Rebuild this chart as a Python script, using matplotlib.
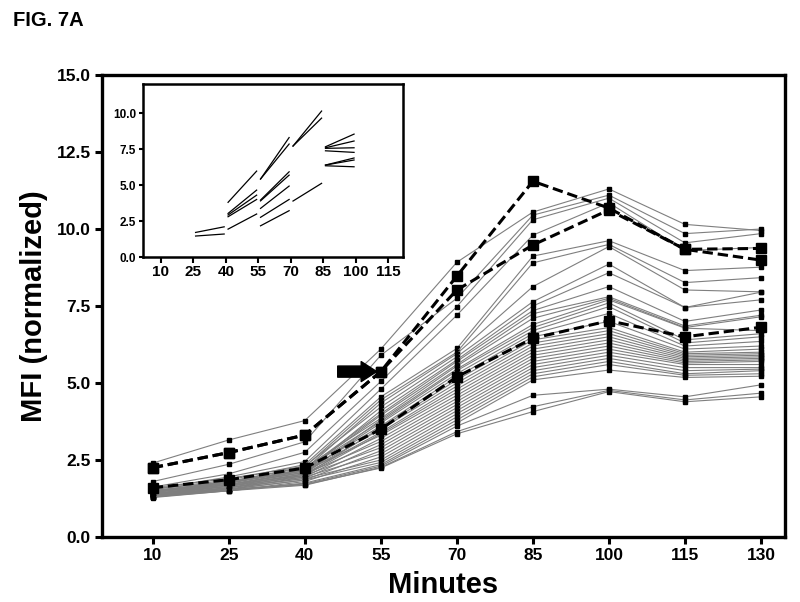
import matplotlib
matplotlib.use("Agg")
import matplotlib.pyplot as plt

plt.rcParams['font.family'] = ['Liberation Sans', 'DejaVu Sans']
plt.rcParams['font.weight'] = 'bold'

minutes = [10, 25, 40, 55, 70, 85, 100, 115, 130]

dashed_series = [
    [2.25, 2.74, 3.31, 5.37, 8.47, 11.55, 10.68, 9.34, 9.37],
    [2.25, 2.74, 3.31, 5.37, 8.02, 9.48, 10.62, 9.34, 8.99],
    [1.60, 1.86, 2.24, 3.50, 5.20, 6.45, 7.02, 6.50, 6.81],
]

grey_series = [
    [2.40, 3.15, 3.78, 6.10, 8.92, 10.55, 11.30, 10.15, 9.95],
    [1.80, 2.36, 3.09, 5.90, 7.75, 10.45, 11.10, 9.85, 10.00],
    [1.62, 2.05, 2.75, 5.05, 7.48, 10.30, 11.00, 9.55, 9.85],
    [1.55, 1.95, 2.45, 4.80, 7.20, 9.80, 10.85, 9.30, 9.40],
    [1.55, 1.85, 2.35, 4.55, 6.12, 9.12, 9.62, 8.65, 8.76],
    [1.50, 1.80, 2.28, 4.45, 6.00, 8.90, 9.50, 8.26, 8.42],
    [1.45, 1.75, 2.20, 4.35, 5.95, 8.13, 9.43, 8.02, 7.96],
    [1.60, 1.90, 2.30, 4.22, 5.85, 7.64, 8.86, 7.45, 7.95],
    [1.40, 1.70, 2.10, 4.10, 5.75, 7.50, 8.58, 7.45, 7.70],
    [1.50, 1.76, 2.20, 4.00, 5.70, 7.35, 8.13, 7.00, 7.37],
    [1.45, 1.70, 2.15, 3.95, 5.60, 7.25, 7.80, 6.85, 7.20],
    [1.55, 1.80, 2.25, 3.85, 5.55, 7.10, 7.75, 6.80, 7.15],
    [1.35, 1.65, 2.05, 3.80, 5.45, 6.90, 7.70, 6.78, 6.70],
    [1.50, 1.75, 2.20, 3.75, 5.40, 6.80, 7.60, 6.40, 6.60],
    [1.40, 1.70, 2.10, 3.70, 5.30, 6.70, 7.48, 6.30, 6.50],
    [1.45, 1.80, 2.15, 3.60, 5.20, 6.60, 7.26, 6.20, 6.35],
    [1.30, 1.60, 2.00, 3.55, 5.10, 6.50, 7.00, 6.10, 6.20],
    [1.50, 1.70, 2.10, 3.50, 5.00, 6.40, 6.80, 6.00, 6.10],
    [1.40, 1.65, 2.05, 3.40, 4.90, 6.30, 6.70, 5.95, 6.00],
    [1.35, 1.60, 2.00, 3.35, 4.80, 6.20, 6.60, 5.90, 5.95],
    [1.45, 1.75, 2.15, 3.30, 4.70, 6.10, 6.50, 5.85, 5.90],
    [1.30, 1.55, 1.95, 3.20, 4.60, 6.00, 6.40, 5.80, 5.85],
    [1.40, 1.65, 2.05, 3.10, 4.50, 5.90, 6.30, 5.75, 5.80],
    [1.35, 1.60, 1.90, 3.00, 4.40, 5.80, 6.20, 5.70, 5.75],
    [1.45, 1.70, 2.00, 2.90, 4.30, 5.70, 6.10, 5.65, 5.70],
    [1.30, 1.55, 1.85, 2.80, 4.20, 5.60, 6.00, 5.60, 5.60],
    [1.40, 1.65, 1.95, 2.70, 4.10, 5.50, 5.90, 5.50, 5.50],
    [1.28, 1.50, 1.80, 2.60, 4.00, 5.40, 5.80, 5.40, 5.45],
    [1.35, 1.60, 1.90, 2.50, 3.90, 5.30, 5.70, 5.30, 5.40],
    [1.30, 1.55, 1.85, 2.42, 3.80, 5.20, 5.60, 5.25, 5.30],
    [1.36, 1.50, 1.75, 2.35, 3.70, 5.10, 5.42, 5.18, 5.22],
    [1.35, 1.55, 1.72, 2.30, 3.60, 4.60, 4.80, 4.55, 4.94],
    [1.30, 1.50, 1.68, 2.26, 3.42, 4.23, 4.76, 4.45, 4.67],
    [1.40, 1.53, 1.70, 2.24, 3.35, 4.07, 4.72, 4.39, 4.55],
]

# inset: interval start/end minutes and the value at each end of each segment
inset_start = [25, 25, 40, 40, 40, 40, 40, 55, 55, 55, 55, 55, 55, 55, 70, 70, 70,
               85, 85, 85, 85, 85, 85, 85]
inset_end = [40, 40, 55, 55, 55, 55, 55, 70, 70, 70, 70, 70, 70, 70, 85, 85, 85,
             100, 100, 100, 100, 100, 100, 100]
inset_y0 = [1.71, 1.46, 3.80, 3.03, 2.92, 2.80, 1.94, 5.42, 5.42, 3.96, 3.90, 3.38, 2.76, 2.17,
            7.71, 7.71, 3.89, 7.66, 7.59, 7.55, 7.38, 6.39, 6.34, 6.39]
inset_y1 = [2.10, 1.60, 5.97, 4.65, 4.30, 4.00, 2.99, 8.30, 7.85, 5.92, 5.69, 4.93, 4.00, 3.22,
            10.14, 9.65, 5.12, 8.54, 8.06, 7.59, 7.27, 6.74, 6.27, 6.88]

main_yticks = [0.0, 2.5, 5.0, 7.5, 10.0, 12.5, 15.0]
inset_xticks = [10, 25, 40, 55, 70, 85, 100, 115]
inset_yticks = [0.0, 2.5, 5.0, 7.5, 10.0]

fig = plt.figure(figsize=(8.0, 6.02), dpi=100)
ax = fig.add_axes([0.1275, 0.108, 0.8535, 0.7674])

for s in grey_series:
    ax.plot(minutes, s, color='#7f7f7f', lw=0.8, marker='s', ms=2.6,
            mfc='black', mec='black', zorder=2)
for s in dashed_series:
    ax.plot(minutes, s, color='black', lw=2.2, ls=(0, (3.4, 1.6)), marker='s', ms=6.5,
            mfc='black', mec='black', zorder=3)

ax.annotate('', xy=(54.2, dashed_series[0][3]), xytext=(46.5, dashed_series[0][3]),
            arrowprops=dict(arrowstyle='simple,head_width=0.9,head_length=0.7,tail_width=0.5',
                            color='black', mutation_scale=16, shrinkA=0, shrinkB=0), zorder=5)

ax.set_xlim(0, 134.7)
ax.set_ylim(0, 15)
ax.set_xticks(minutes)
ax.set_yticks(main_yticks)
ax.set_yticklabels([f'{v:.1f}' for v in main_yticks])
for sp in ax.spines.values():
    sp.set_linewidth(2.4)
ax.tick_params(width=2.2, length=5, labelsize=12.5, pad=3)
for lab in ax.get_xticklabels() + ax.get_yticklabels():
    lab.set_fontweight('bold')
ax.set_xlabel('Minutes', fontsize=21, fontweight='bold', labelpad=6)
ax.set_ylabel('MFI (normalized)', fontsize=21, fontweight='bold', labelpad=6)

fig.text(0.016, 0.956, 'FIG. 7A', fontsize=14.5, fontweight='bold')

ins = fig.add_axes([0.179, 0.573, 0.325, 0.287])
for a, b, y0, y1 in zip(inset_start, inset_end, inset_y0, inset_y1):
    ins.plot([a + 1, b - 0.8], [y0, y1], color='black', lw=0.9)
ins.set_xlim(1.8, 121.9)
ins.set_ylim(0, 12)
ins.set_xticks(inset_xticks)
ins.set_yticks(inset_yticks)
ins.set_yticklabels([f'{v:.1f}' for v in inset_yticks])
for sp in ins.spines.values():
    sp.set_linewidth(1.8)
ins.tick_params(axis='x', width=1.5, length=4, labelsize=11, pad=2)
ins.tick_params(axis='y', width=1.5, length=3, labelsize=8.5, pad=2)
for lab in ins.get_xticklabels() + ins.get_yticklabels():
    lab.set_fontweight('bold')

fig.savefig('out.png', dpi=100)
